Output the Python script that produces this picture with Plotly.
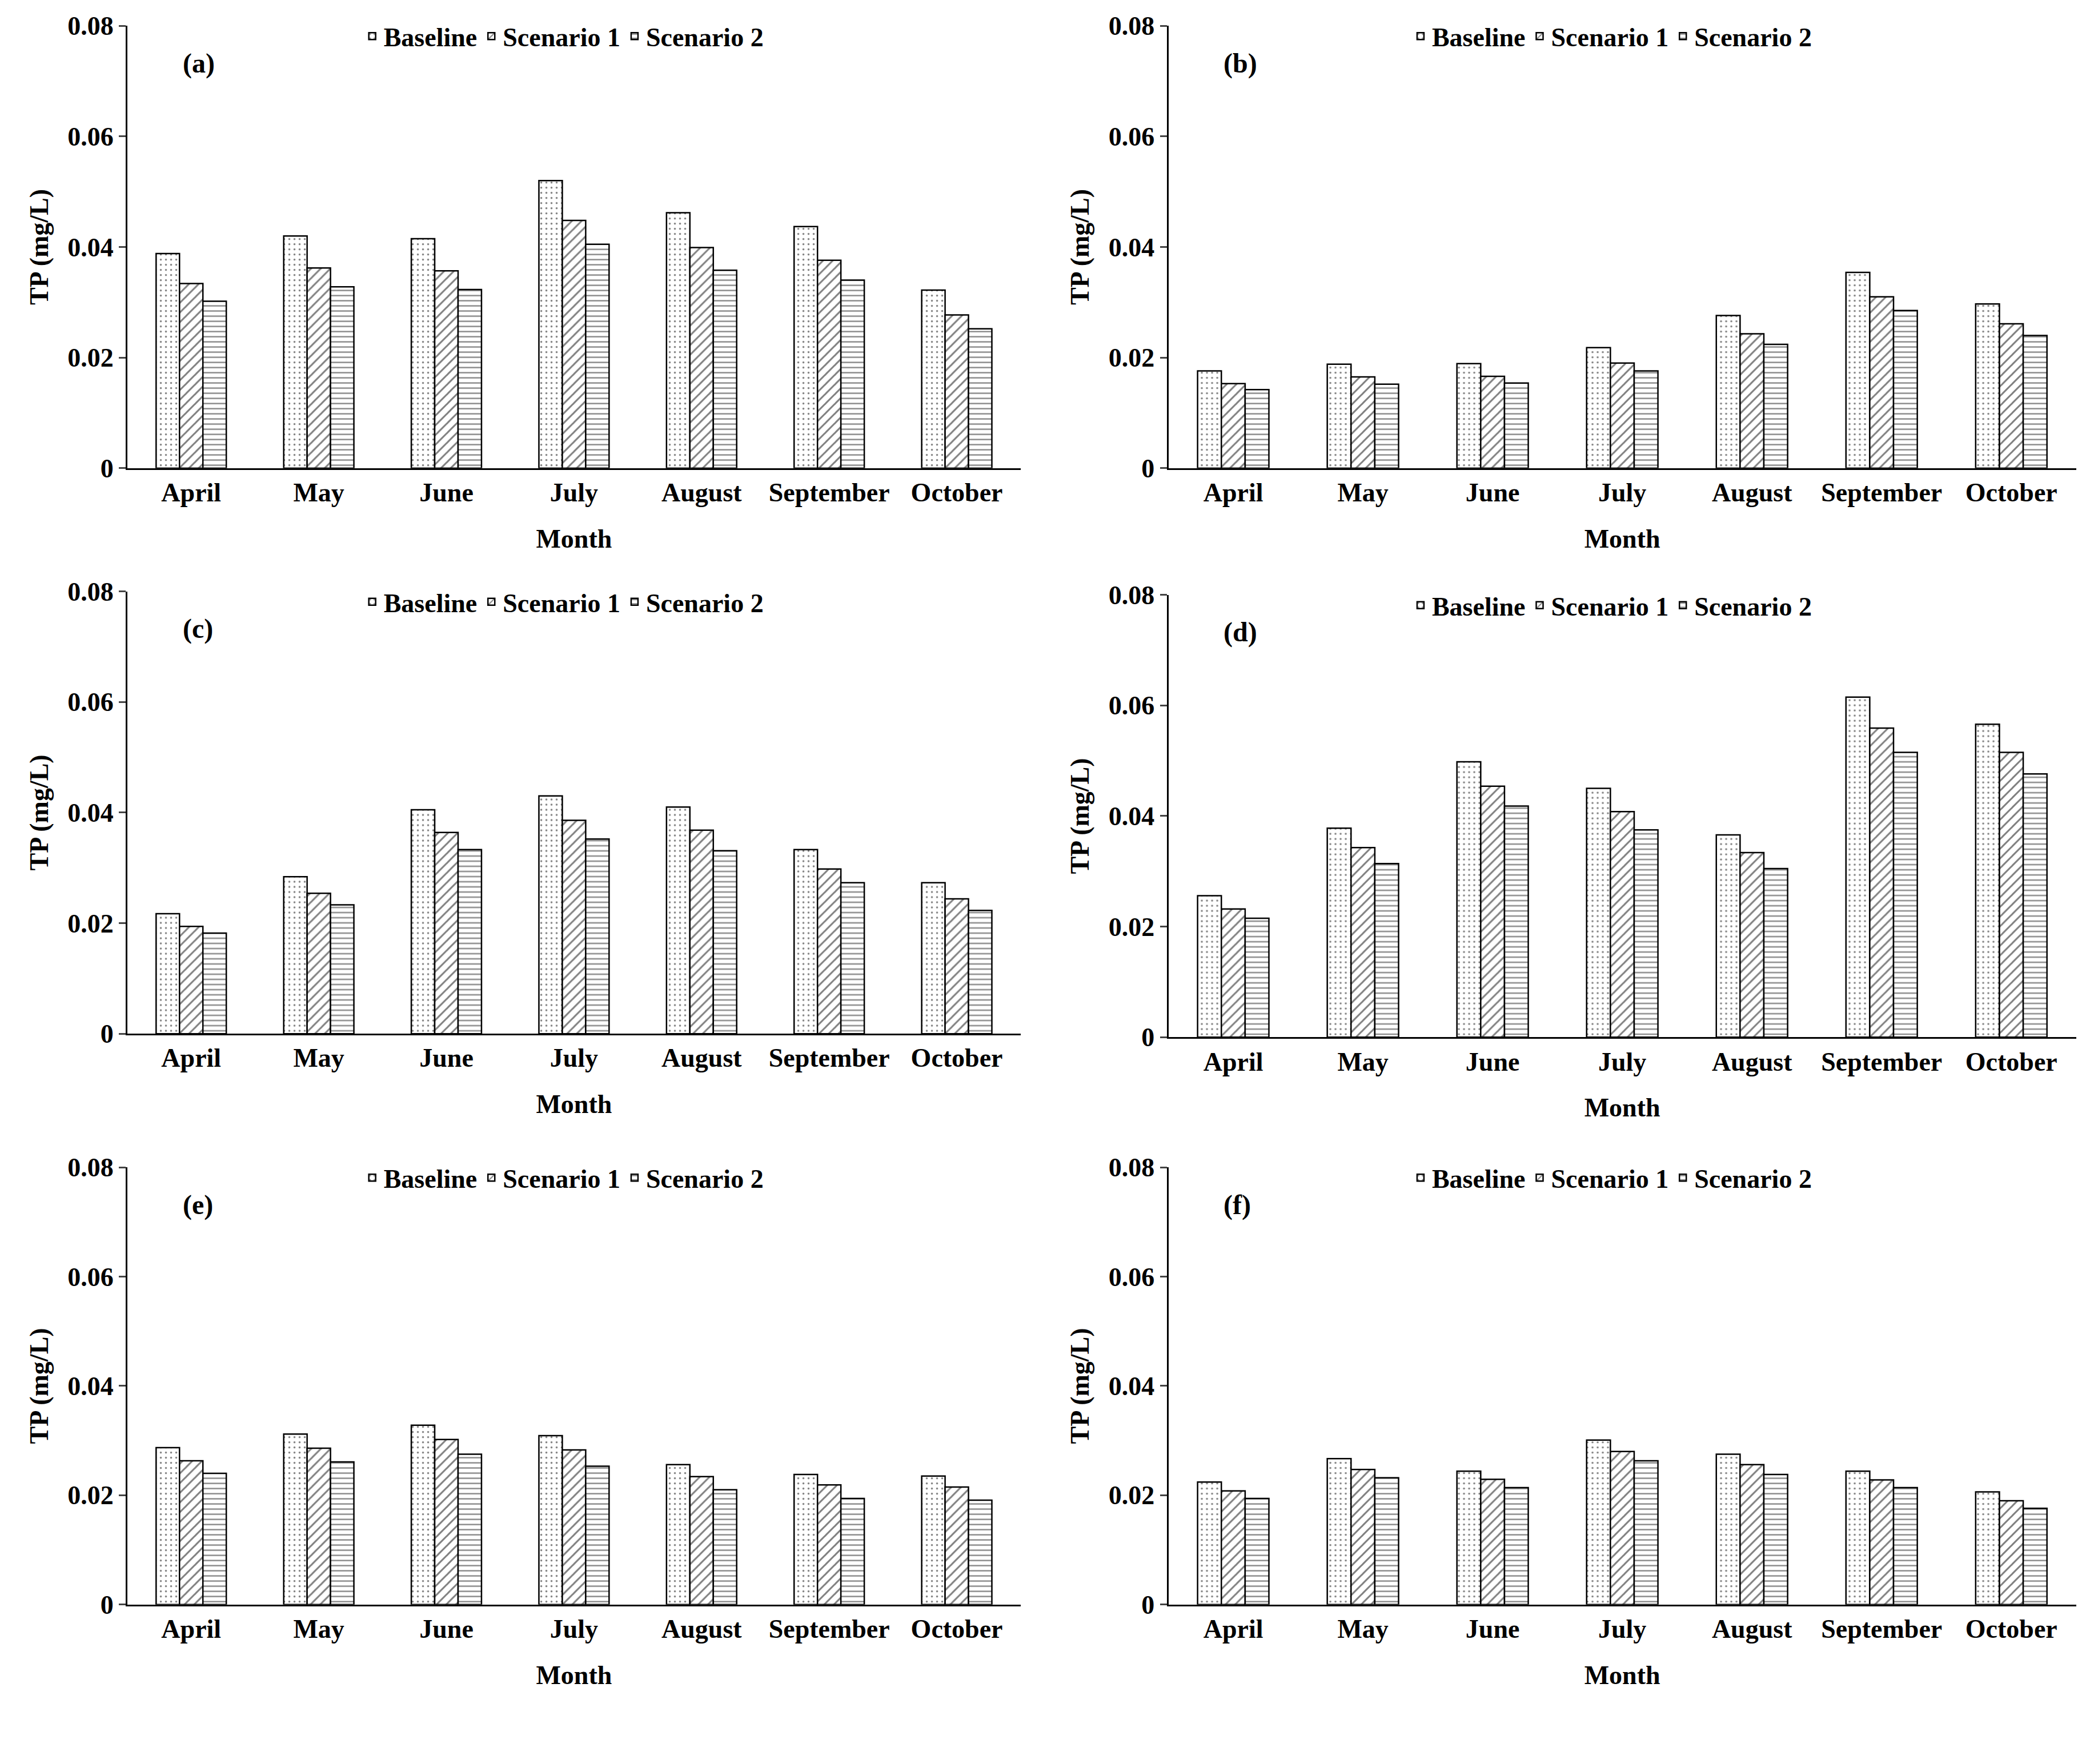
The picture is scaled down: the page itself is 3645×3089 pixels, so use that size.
import plotly.graph_objects as go

months = ["April", "May", "June", "July", "August", "September", "October"]
series_names = ["Baseline", "Scenario 1", "Scenario 2"]
panel_labels = ["(a)", "(b)", "(c)", "(d)", "(e)", "(f)"]

a_base = [0.0388, 0.0420, 0.0415, 0.0520, 0.0462, 0.0437, 0.0322]
a_s1 = [0.0334, 0.0362, 0.0357, 0.0448, 0.0399, 0.0376, 0.0277]
a_s2 = [0.0302, 0.0328, 0.0323, 0.0405, 0.0358, 0.0340, 0.0252]
b_base = [0.0176, 0.0188, 0.0189, 0.0218, 0.0276, 0.0354, 0.0297]
b_s1 = [0.0153, 0.0165, 0.0166, 0.0190, 0.0243, 0.0310, 0.0261]
b_s2 = [0.0142, 0.0152, 0.0154, 0.0176, 0.0224, 0.0285, 0.0240]
c_base = [0.0217, 0.0284, 0.0405, 0.0430, 0.0410, 0.0333, 0.0273]
c_s1 = [0.0194, 0.0254, 0.0364, 0.0386, 0.0368, 0.0298, 0.0244]
c_s2 = [0.0182, 0.0233, 0.0333, 0.0352, 0.0331, 0.0273, 0.0223]
d_base = [0.0256, 0.0378, 0.0498, 0.0450, 0.0366, 0.0615, 0.0566]
d_s1 = [0.0232, 0.0343, 0.0454, 0.0408, 0.0334, 0.0559, 0.0515]
d_s2 = [0.0215, 0.0314, 0.0418, 0.0375, 0.0305, 0.0515, 0.0476]
e_base = [0.0287, 0.0312, 0.0328, 0.0309, 0.0256, 0.0238, 0.0235]
e_s1 = [0.0263, 0.0286, 0.0302, 0.0283, 0.0234, 0.0219, 0.0215]
e_s2 = [0.0240, 0.0261, 0.0275, 0.0253, 0.0210, 0.0194, 0.0191]
f_base = [0.0224, 0.0267, 0.0244, 0.0301, 0.0275, 0.0244, 0.0206]
f_s1 = [0.0208, 0.0247, 0.0229, 0.0280, 0.0256, 0.0228, 0.0190]
f_s2 = [0.0194, 0.0232, 0.0214, 0.0263, 0.0238, 0.0214, 0.0176]

panels = [(a_base, a_s1, a_s2), (b_base, b_s1, b_s2), (c_base, c_s1, c_s2),
          (d_base, d_s1, d_s2), (e_base, e_s1, e_s2), (f_base, f_s1, f_s2)]

xdoms = [(0.059, 0.488), (0.559, 0.995)] * 3
ydoms = [(0.741, 0.996), (0.741, 0.996), (0.415, 0.670), (0.413, 0.668),
         (0.086, 0.338), (0.086, 0.338)]
shapes_ = [".", "/", "-"]
sizes_ = [9, 12, 9]
solid_ = [0.12, 0.25, 0.25]
FONT = "Liberation Serif"

fig = go.Figure()
layout = dict(width=3645, height=3089, paper_bgcolor="white", plot_bgcolor="white",
              margin=dict(l=0, r=0, t=0, b=0), barmode="group", bargap=0.45, bargroupgap=0,
              font=dict(family=FONT, size=46, color="black"), annotations=[])

for i, vals in enumerate(panels):
    n = "" if i == 0 else str(i + 1)
    leg = "legend" + n
    for j, v in enumerate(vals):
        fig.add_trace(go.Bar(
            x=months, y=v, name=series_names[j], xaxis="x" + n, yaxis="y" + n,
            legend=leg,
            marker=dict(color="white", line=dict(color="black", width=2.5),
                        pattern=dict(shape=shapes_[j], fgcolor="black", size=sizes_[j], solidity=solid_[j])),
        ))
    xd, yd = xdoms[i], ydoms[i]
    layout["xaxis" + n] = dict(domain=list(xd), anchor="y" + n, showline=True, linecolor="black",
                               linewidth=3, ticks="", tickfont=dict(size=46, family=FONT, weight="bold"),
                               title=dict(text="<b>Month</b>", font=dict(size=46), standoff=40))
    layout["yaxis" + n] = dict(domain=list(yd), anchor="x" + n, range=[0, 0.08],
                               tickvals=[0, 0.02, 0.04, 0.06, 0.08],
                               ticktext=["<b>0</b>", "<b>0.02</b>", "<b>0.04</b>", "<b>0.06</b>", "<b>0.08</b>"],
                               showline=True, linecolor="black", linewidth=3, ticks="outside",
                               ticklen=12, tickwidth=3, showgrid=False, zeroline=False,
                               title=dict(text="<b>TP (mg/L)</b>", font=dict(size=46), standoff=20))
    layout[leg] = dict(orientation="h", x=(xd[0] + xd[1]) / 2 - 0.005, xanchor="center",
                       y=yd[1] + 0.006, yanchor="top", bgcolor="rgba(0,0,0,0)",
                       font=dict(size=46, family=FONT, weight="bold"), itemwidth=30,
                       tracegroupgap=0)
    layout["annotations"].append(dict(text="<b>" + panel_labels[i] + "</b>", xref="paper", yref="paper",
                                      x=xd[0] + 0.026, y=yd[1] - 0.012, xanchor="left", yanchor="top",
                                      showarrow=False, font=dict(size=48)))

fig.update_layout(**layout)
fig.write_html("out.html")
